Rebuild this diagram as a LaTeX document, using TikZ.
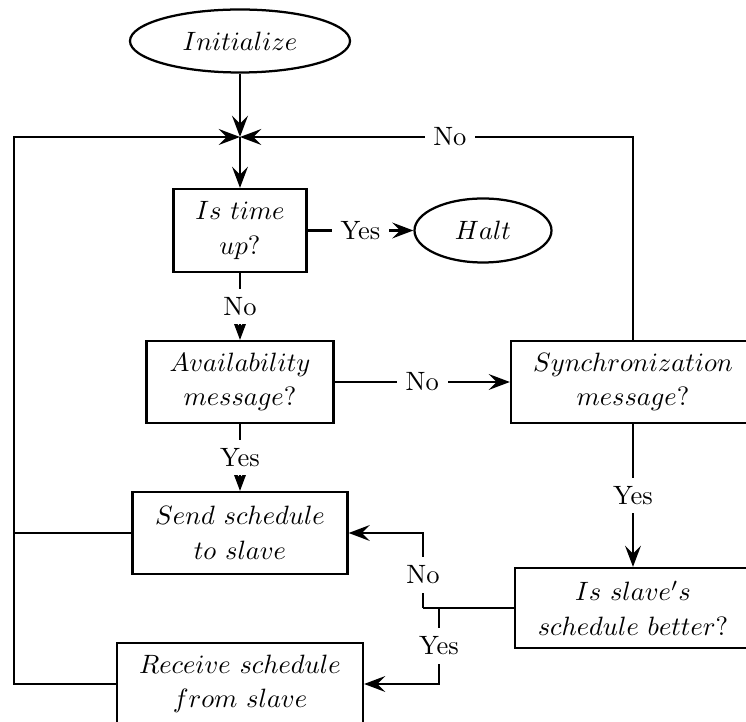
\documentclass[tikz,border=0pt]{standalone}
\usetikzlibrary{arrows.meta,shapes.geometric}
\begin{document}
\begin{tikzpicture}[x=0.3774pt,y=-0.3774pt,
  line width=0.85pt,
  >={Stealth[length=8pt,width=6pt,inset=3pt]},
  bx/.style n args={2}{draw,rectangle,align=center,inner sep=0pt,
     minimum width=#1*0.3774pt,minimum height=#2*0.3774pt},
  el/.style n args={2}{draw,ellipse,inner sep=0pt,
     minimum width=#1*0.3774pt,minimum height=#2*0.3774pt},
  lbl/.style={fill=white,inner sep=3.3pt}]
\useasboundingbox (0,0) rectangle (746,722);
\node[el={220}{63}] (init) at (240,41) {$Initialize$};
\coordinate (J) at (240,137);
\node[bx={133}{83}] (time) at (240,230.5) {$Is~time$\\[1pt]$up?$};
\node[el={137}{64}] (halt) at (483,230.5) {$Halt$};
\node[bx={187}{82}] (avail) at (240,382) {$Availability$\\[1pt]$message?$};
\node[bx={244}{82}] (sync) at (633,382) {$Synchronization$\\[1pt]$message?$};
\node[bx={215}{82}] (send) at (240,533) {$Send~schedule$\\[1pt]$to~slave$};
\node[bx={236}{80}] (slave) at (633,608) {$Is~slave's$\\[1pt]$schedule~better?$};
\node[bx={246}{82}] (recv) at (240,684) {$Receive~schedule$\\[1pt]$from~slave$};
\coordinate (L) at (14,684);
\coordinate (Ls) at (14,533);
\coordinate (Nb) at (423,608);
\coordinate (Yb) at (439,608);

\draw[->] (init.south) -- (J);
\draw[->] (J) -- (time.north);
\draw[->] (time.east) -- node[lbl]{Yes} (halt.west);
\draw[->] (time.south) -- node[lbl]{No} (avail.north);
\draw[->] (avail.east) -- node[lbl]{No} (sync.west);
\draw[->] (avail.south) -- node[lbl]{Yes} (send.north);
\draw[->] (sync.north) |- node[lbl,pos=0.733]{No} (J);
\draw[->] (sync.south) -- node[lbl]{Yes} (slave.north);
\draw (slave.west) -- (Nb);
\draw[->] (Nb) |- node[lbl,pos=0.22]{No} (send.east);
\draw[->] (Yb) |- node[lbl,pos=0.25]{Yes} (recv.east);
\draw (send.west) -- (Ls);
\draw[->] (recv.west) -- (L) |- (J);
\end{tikzpicture}
\end{document}
